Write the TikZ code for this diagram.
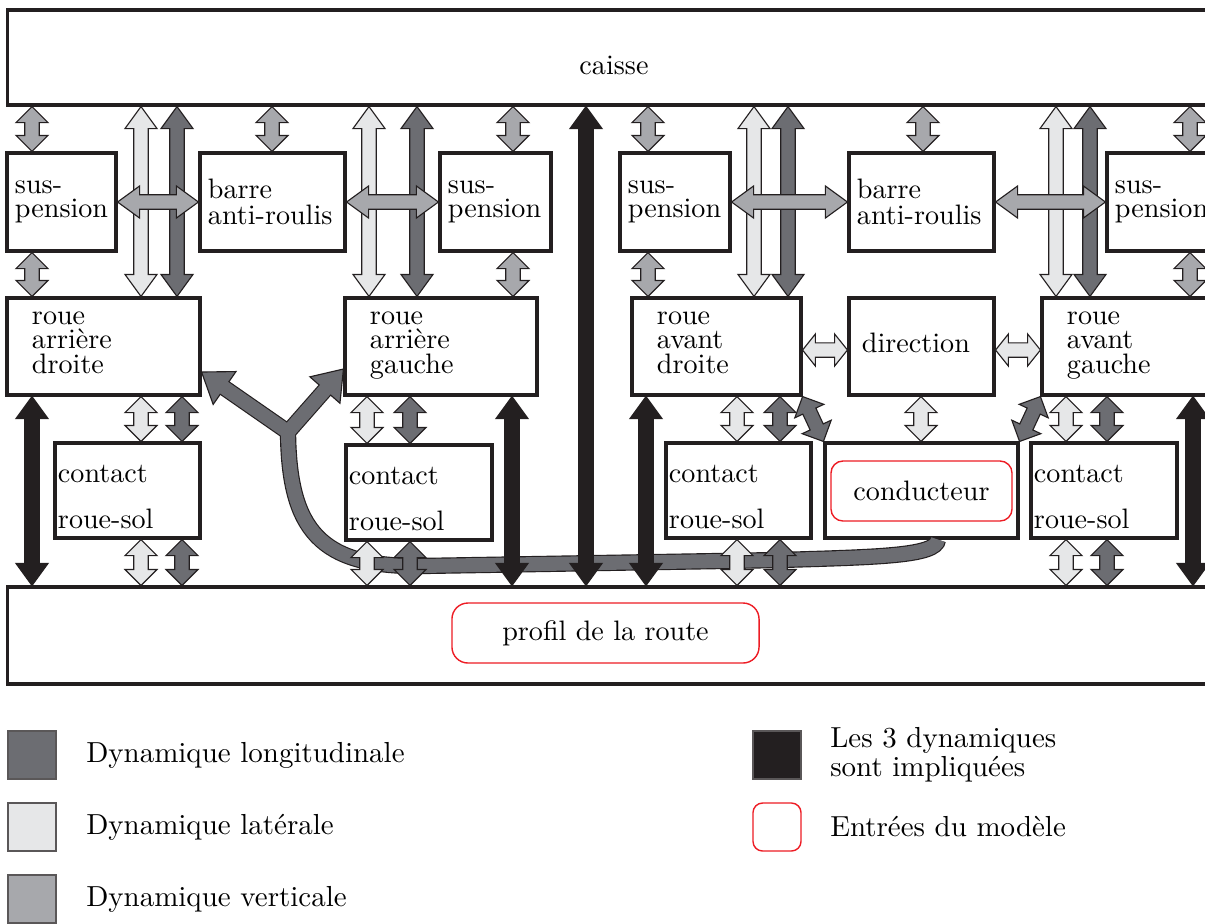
\documentclass[tikz,border=0pt]{standalone}
\usepackage{graphicx}
\usepackage{xcolor}
\usepackage{tikz}
\usetikzlibrary{calc,positioning}
\definecolor{dynlong}{RGB}{108,109,114}
\definecolor{dynlat}{RGB}{230,231,232}
\definecolor{dynvert}{RGB}{167,168,172}
\definecolor{dynall}{RGB}{35,31,32}
\definecolor{inred}{RGB}{237,28,36}
\definecolor{edge}{RGB}{35,31,32}
\newcommand{\arrhw}{0.2cm}
\newcommand{\arrsw}{0.09cm}
% double block arrow: [head length]{fill}{from}{to}
\newcommand{\dynarrow}[4][0.2cm]{%
  \path #3 coordinate (ta) #4 coordinate (tb);
  \filldraw[draw=edge, fill=#2, line width=0.4pt]
    (ta) -- ($(ta)!#1!(tb)!\arrhw!90:(tb)$) -- ($(ta)!#1!(tb)!\arrsw!90:(tb)$)
    -- ($(tb)!#1!(ta)!\arrsw!-90:(ta)$) -- ($(tb)!#1!(ta)!\arrhw!-90:(ta)$)
    -- (tb) -- ($(tb)!#1!(ta)!\arrhw!90:(ta)$) -- ($(tb)!#1!(ta)!\arrsw!90:(ta)$)
    -- ($(ta)!#1!(tb)!\arrsw!-90:(tb)$) -- ($(ta)!#1!(tb)!\arrhw!-90:(tb)$) -- cycle;}
\tikzset{
  blk/.style={draw=edge, line width=1.1pt, rectangle, inner ysep=0pt, align=left,
              font=\fontsize{10}{8.7}\selectfont},
  wheelbox/.style={blk, minimum height=1.2125cm, inner xsep=0.3125cm,
                   execute at end node={\rule[-3pt]{0pt}{0pt}}},
  suspbox/.style={blk, minimum height=1.225cm, inner xsep=0.1cm},
  barbox/.style={blk, minimum height=1.225cm, inner xsep=0.1cm,
                 font=\fontsize{10}{9}\selectfont},
  contactbox/.style={blk, minimum height=1.1875cm, inner xsep=0.0375cm,
                     font=\fontsize{10}{16.3}\selectfont,
                     execute at begin node={\rule{0pt}{11pt}}},
  inbox/.style={draw=inred, line width=0.5pt, rounded corners=0.2cm},
  swatch/.style={draw=edge!75, line width=0.5pt, minimum size=0.6cm, inner sep=0pt},
  legtext/.style={inner sep=0pt, align=left, font=\fontsize{10.3}{7.9}\selectfont},
}

\begin{document}
\begin{tikzpicture}[x=0.0125cm, y=-0.0125cm]
  \useasboundingbox (0,0) rectangle (1205,923);
  \clip (0,0) rectangle (1205,923);

  % caisse and profil
  \node[blk, minimum width=15.15cm, minimum height=1.1875cm, text height=12pt] (caisse) at (614,57.5) {caisse};
  \node[blk, minimum width=15.15cm, minimum height=1.2125cm] (sol) at (614,635.5) {};
  \node[inbox, minimum width=3.8375cm, minimum height=0.75cm] (profil) at (605.5,633) {profil de la route};

  % suspensions
  \node[suspbox, text width=1.1625cm] (sus1) at (61.5,202)   {sus-\\pension};
  \node[barbox,  text width=1.6125cm] (bar1) at (272.5,202)  {barre\\anti-roulis};
  \node[suspbox, text width=1.1875cm] (sus2) at (495.5,202)  {sus-\\pension};
  \node[suspbox, text width=1.175cm]  (sus3) at (675,202)    {sus-\\pension};
  \node[barbox,  text width=1.6125cm] (bar2) at (921.5,202)  {barre\\anti-roulis};
  \node[suspbox, text width=1.2125cm] (sus4) at (1163.5,202) {sus-\\pension};

  % roues
  \node[wheelbox, text width=1.7875cm] (rad)  at (103.5,346.5) {roue\\arrière\\droite};
  \node[wheelbox, text width=1.775cm]  (rag)  at (441,346.5)   {roue\\arrière\\gauche};
  \node[wheelbox, text width=1.4875cm] (ravd) at (716.5,346.5) {roue\\avant\\droite};
  \node[blk, minimum height=1.2125cm, inner xsep=0.1625cm, text width=1.4875cm,
        execute at end node={\rule[-3pt]{0pt}{0pt}}] (dir) at (921.5,346.5) {direction};
  \node[wheelbox, text width=1.6cm]    (ravg) at (1131,346.5)  {roue\\avant\\gauche};

  % contacts
  \node[contactbox, text width=1.7375cm] (cs1) at (127.5,490.5) {contact\\roue-sol};
  \node[contactbox, text width=1.75cm]   (cs2) at (419,492.5)   {contact\\roue-sol};
  \node[contactbox, text width=1.7375cm] (cs3) at (738.5,490.5) {contact\\roue-sol};
  \node[blk, minimum width=2.4125cm, minimum height=1.1875cm] (drv) at (921.5,490.5) {};
  \node[inbox, rounded corners=0.15cm, minimum width=2.2625cm, minimum height=0.75cm] (cond) at (921.5,491) {conducteur};
  \node[contactbox, text width=1.75cm]   (cs4) at (1104,490.5)  {contact\\roue-sol};

  % conducteur -> roues arriere
  \coordinate (fork) at (288,432);
  \coordinate (tipr) at (rad.east |- 0,372);
  \coordinate (tipg) at (rag.west |- 0,369);
  \coordinate (baser) at ($(tipr)!0.35cm!(fork)$);
  \coordinate (baseg) at ($(tipg)!0.35cm!(fork)$);
  \draw[edge, line width=5.8pt] (drv.south -| 938,0) .. controls (936,556) and (880,557) .. (780,560)
    -- (420,566) .. controls (320,567) and (289,530) .. (fork);
  \draw[edge, line width=5.8pt] (baser) -- (fork) -- (baseg);
  \filldraw[draw=edge, fill=dynlong, line width=0.4pt] (tipr) -- ($(baser)!0.25cm!90:(tipr)$) -- ($(baser)!0.25cm!-90:(tipr)$) -- cycle;
  \filldraw[draw=edge, fill=dynlong, line width=0.4pt] (tipg) -- ($(baseg)!0.25cm!90:(tipg)$) -- ($(baseg)!0.25cm!-90:(tipg)$) -- cycle;
  \draw[dynlong, line width=4.98pt] (drv.south -| 938,0) .. controls (936,556) and (880,557) .. (780,560)
    -- (420,566) .. controls (320,567) and (289,530) .. (fork);
  \draw[dynlong, line width=4.98pt] ($(tipr)!0.32cm!(fork)$) -- (fork) -- ($(tipg)!0.32cm!(fork)$);

  % caisse - suspensions - roues
  \dynarrow{dynvert}{(caisse.south -| 32,0)}{(sus1.north -| 32,0)}
  \dynarrow{dynvert}{(sus1.south -| 32,0)}{(rad.north -| 32,0)}
  \dynarrow{dynvert}{(caisse.south -| 272,0)}{(bar1.north -| 272,0)}
  \dynarrow{dynvert}{(caisse.south -| 513,0)}{(sus2.north -| 513,0)}
  \dynarrow{dynvert}{(sus2.south -| 513,0)}{(rag.north -| 513,0)}
  \dynarrow{dynvert}{(caisse.south -| 648,0)}{(sus3.north -| 648,0)}
  \dynarrow{dynvert}{(sus3.south -| 648,0)}{(ravd.north -| 648,0)}
  \dynarrow{dynvert}{(caisse.south -| 923,0)}{(bar2.north -| 923,0)}
  \dynarrow{dynvert}{(caisse.south -| 1190,0)}{(sus4.north -| 1190,0)}
  \dynarrow{dynvert}{(sus4.south -| 1190,0)}{(ravg.north -| 1190,0)}

  \dynarrow[0.275cm]{dynlat}{(caisse.south -| 141,0)}{(rad.north -| 141,0)}
  \dynarrow[0.275cm]{dynlong}{(caisse.south -| 177,0)}{(rad.north -| 177,0)}
  \dynarrow[0.275cm]{dynlat}{(caisse.south -| 369,0)}{(rag.north -| 369,0)}
  \dynarrow[0.275cm]{dynlong}{(caisse.south -| 417,0)}{(rag.north -| 417,0)}
  \dynarrow[0.275cm]{dynlat}{(caisse.south -| 754,0)}{(ravd.north -| 754,0)}
  \dynarrow[0.275cm]{dynlong}{(caisse.south -| 788,0)}{(ravd.north -| 788,0)}
  \dynarrow[0.275cm]{dynlat}{(caisse.south -| 1056,0)}{(ravg.north -| 1056,0)}
  \dynarrow[0.275cm]{dynlong}{(caisse.south -| 1090,0)}{(ravg.north -| 1090,0)}

  % roues - contacts - profil
  \dynarrow{dynlat}{(rad.south -| 141,0)}{(cs1.north -| 141,0)}
  \dynarrow{dynlong}{(rad.south -| 182,0)}{(cs1.north -| 182,0)}
  \dynarrow{dynlat}{(cs1.south -| 141,0)}{(sol.north -| 141,0)}
  \dynarrow{dynlong}{(cs1.south -| 182,0)}{(sol.north -| 182,0)}
  \dynarrow{dynlat}{(rag.south -| 367,0)}{(cs2.north -| 367,0)}
  \dynarrow{dynlong}{(rag.south -| 410,0)}{(cs2.north -| 410,0)}
  \dynarrow{dynlat}{(cs2.south -| 367,0)}{(sol.north -| 367,0)}
  \dynarrow{dynlong}{(cs2.south -| 410,0)}{(sol.north -| 410,0)}
  \dynarrow{dynlat}{(ravd.south -| 737,0)}{(cs3.north -| 737,0)}
  \dynarrow{dynlong}{(ravd.south -| 780,0)}{(cs3.north -| 780,0)}
  \dynarrow{dynlat}{(cs3.south -| 737,0)}{(sol.north -| 737,0)}
  \dynarrow{dynlong}{(cs3.south -| 780,0)}{(sol.north -| 780,0)}
  \dynarrow{dynlat}{(dir.south -| 921,0)}{(drv.north -| 921,0)}
  \dynarrow{dynlat}{(ravg.south -| 1066,0)}{(cs4.north -| 1066,0)}
  \dynarrow{dynlong}{(ravg.south -| 1107,0)}{(cs4.north -| 1107,0)}
  \dynarrow{dynlat}{(cs4.south -| 1066,0)}{(sol.north -| 1066,0)}
  \dynarrow{dynlong}{(cs4.south -| 1107,0)}{(sol.north -| 1107,0)}
  \dynarrow{dynlong}{(ravd.south east)}{(drv.north west)}
  \dynarrow{dynlong}{(ravg.south west)}{(drv.north east)}

  % les 3 dynamiques
  \dynarrow[0.275cm]{dynall}{(rad.south -| 32,0)}{(sol.north -| 32,0)}
  \dynarrow[0.275cm]{dynall}{(rag.south -| 512,0)}{(sol.north -| 512,0)}
  \dynarrow[0.275cm]{dynall}{(caisse.south -| 586,0)}{(sol.north -| 586,0)}
  \dynarrow[0.275cm]{dynall}{(ravd.south -| 646,0)}{(sol.north -| 646,0)}
  \dynarrow[0.275cm]{dynall}{(ravg.south -| 1193,0)}{(sol.north -| 1193,0)}

  % barres anti-roulis, direction
  \dynarrow[0.275cm]{dynvert}{(sus1.east)}{(bar1.west)}
  \dynarrow[0.275cm]{dynvert}{(bar1.east)}{(sus2.west)}
  \dynarrow[0.275cm]{dynvert}{(sus3.east)}{(bar2.west)}
  \dynarrow[0.275cm]{dynvert}{(bar2.east)}{(sus4.west)}
  \dynarrow[0.16cm]{dynlat}{(ravd.east |- 0,350)}{(dir.west |- 0,350)}
  \dynarrow[0.16cm]{dynlat}{(dir.east |- 0,350)}{(ravg.west |- 0,350)}

  % legende
  \node[swatch, fill=dynlong] (swlong) at (32,755) {};
  \node[legtext, right=0.3625cm of swlong] (txlong) {Dynamique longitudinale};
  \node[swatch, fill=dynlat] (swlat) at (32,827) {};
  \node[legtext, right=0.3625cm of swlat] (txlat) {Dynamique latérale};
  \node[swatch, fill=dynvert] (swvert) at (32,899) {};
  \node[legtext, right=0.3625cm of swvert] (txvert) {Dynamique verticale};
  \node[swatch, fill=dynall] (swall) at (777,755) {};
  \node[legtext, right=0.35cm of swall] (txall) {Les 3 dynamiques\\sont impliquées};
  \node[swatch, draw=inred, rounded corners=0.12cm] (swin) at (777,827) {};
  \node[legtext, right=0.35cm of swin] (txin) {Entrées du modèle};
\end{tikzpicture}
\end{document}
